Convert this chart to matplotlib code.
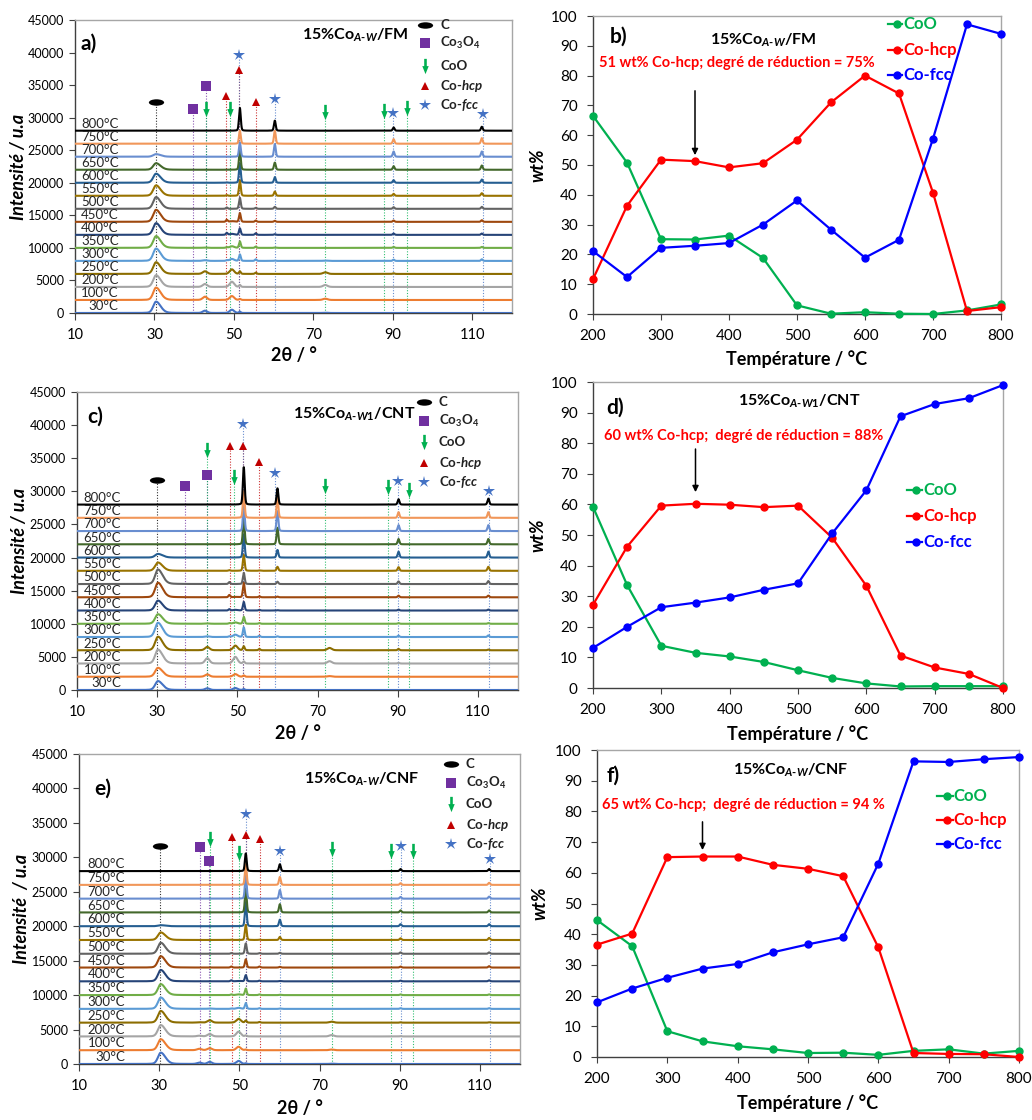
import numpy as np
import matplotlib
matplotlib.use("Agg")
import matplotlib.pyplot as plt
from matplotlib.path import Path
from matplotlib.markers import MarkerStyle

plt.rcParams['font.family'] = ['Lato', 'DejaVu Sans']
plt.rcParams['font.sans-serif'] = ['Lato', 'DejaVu Sans']
plt.rcParams['mathtext.fontset'] = 'custom'
plt.rcParams['mathtext.rm'] = 'Lato:bold'
plt.rcParams['mathtext.it'] = 'Lato:italic:bold'
plt.rcParams['mathtext.bf'] = 'Lato:bold'

# ---------------- DATA ----------------
xrd_temps = ['30°C', '100°C', '200°C', '250°C', '300°C', '350°C', '400°C', '450°C',
             '500°C', '550°C', '600°C', '650°C', '700°C', '750°C', '800°C']
xrd_offsets = [0, 2000, 4000, 6000, 8000, 10000, 12000, 14000, 16000, 18000,
               20000, 22000, 24000, 26000, 28000]

# peak positions (2theta) for each sample
peaks_fm = [30.4, 42.7, 49.5, 48.2, 51.5, 55.5, 60.3, 73.0, 90.2, 112.4]
peaks_cnt = [30.2, 42.5, 49.5, 48.0, 51.6, 55.5, 60.0, 73.0, 90.2, 112.6]
peaks_cnf = [30.4, 40.0, 42.6, 49.8, 48.0, 51.6, 55.0, 60.1, 73.0, 90.2, 112.3]

# peak heights (rows: temperatures, cols: peaks)
heights_fm = [
    [1750, 350, 500, 0, 200, 0, 0, 50, 0, 0],
    [1900, 500, 600, 0, 150, 0, 0, 200, 0, 0],
    [1800, 450, 800, 0, 300, 0, 0, 300, 0, 0],
    [1800, 400, 700, 0, 400, 200, 0, 250, 100, 0],
    [1900, 100, 300, 100, 1000, 250, 50, 50, 200, 250],
    [1800, 50, 250, 100, 1000, 200, 50, 0, 150, 150],
    [1800, 0, 150, 300, 1000, 250, 100, 0, 200, 200],
    [1850, 0, 100, 300, 1350, 200, 150, 0, 200, 250],
    [1800, 0, 0, 200, 1700, 150, 300, 0, 250, 300],
    [1600, 0, 0, 100, 2400, 100, 650, 0, 300, 400],
    [1400, 0, 0, 50, 3000, 50, 870, 0, 400, 500],
    [1000, 0, 0, 0, 3000, 0, 1100, 0, 550, 650],
    [400, 0, 0, 0, 2200, 0, 1950, 0, 800, 800],
    [0, 0, 0, 0, 2000, 0, 2000, 0, 700, 850],
    [0, 0, 0, 0, 3500, 0, 1540, 0, 500, 600],
]
heights_cnt = [
    [1350, 250, 300, 0, 150, 0, 0, 0, 0, 0],
    [1350, 350, 400, 0, 200, 0, 0, 100, 0, 0],
    [2100, 800, 1000, 0, 300, 0, 0, 350, 100, 0],
    [2050, 500, 700, 0, 600, 200, 0, 350, 200, 100],
    [2150, 100, 350, 100, 1450, 200, 100, 0, 200, 250],
    [1450, 50, 200, 100, 1050, 100, 50, 0, 100, 100],
    [1500, 0, 100, 200, 1300, 100, 50, 0, 150, 150],
    [2200, 0, 50, 350, 2200, 150, 100, 0, 250, 250],
    [2200, 0, 0, 300, 1700, 100, 350, 0, 400, 450],
    [1250, 0, 0, 100, 2400, 50, 600, 0, 550, 600],
    [550, 0, 0, 0, 3500, 0, 1150, 0, 900, 900],
    [0, 0, 0, 0, 4000, 0, 2500, 0, 800, 800],
    [0, 0, 0, 0, 4000, 0, 3000, 0, 900, 900],
    [0, 0, 0, 0, 4000, 0, 3000, 0, 850, 850],
    [0, 0, 0, 0, 5650, 0, 2450, 0, 800, 900],
]
heights_cnf = [
    [1650, 200, 300, 450, 0, 100, 0, 0, 50, 0, 0],
    [1600, 200, 300, 500, 0, 100, 0, 0, 100, 0, 0],
    [1650, 100, 350, 700, 0, 150, 0, 0, 200, 50, 0],
    [1700, 50, 350, 550, 0, 300, 100, 0, 150, 50, 50],
    [1650, 0, 50, 150, 50, 850, 100, 50, 0, 100, 100],
    [1600, 0, 0, 100, 100, 950, 100, 50, 0, 100, 100],
    [1650, 0, 0, 50, 150, 900, 100, 50, 0, 100, 150],
    [1650, 0, 0, 0, 150, 1200, 150, 100, 0, 150, 200],
    [1600, 0, 0, 0, 100, 1500, 100, 150, 0, 200, 200],
    [1100, 0, 0, 0, 50, 2200, 50, 450, 0, 250, 300],
    [150, 0, 0, 0, 0, 3500, 0, 950, 0, 300, 300],
    [0, 0, 0, 0, 0, 3500, 0, 1200, 0, 300, 300],
    [0, 0, 0, 0, 0, 3500, 0, 1250, 0, 250, 300],
    [0, 0, 0, 0, 0, 3000, 0, 1150, 0, 250, 300],
    [0, 0, 0, 0, 0, 2560, 0, 1000, 0, 300, 300],
]

# reference phase positions (2theta) marked in each XRD panel
ref_fm = {'C': [30.4], 'Co3O4': [39.7, 42.9], 'CoO': [42.9, 48.9, 72.9, 87.9, 93.6],
          'hcp': [48.1, 51.3, 55.5], 'fcc': [51.4, 60.3, 90.1, 112.6]}
ref_cnt = {'C': [30.0], 'Co3O4': [36.9, 42.5], 'CoO': [42.5, 49.2, 71.75, 87.5, 92.9],
           'hcp': [48.2, 51.3, 55.5], 'fcc': [51.3, 59.5, 90.0, 112.75]}
ref_cnf = {'C': [30.3], 'Co3O4': [40.15, 42.4], 'CoO': [42.6, 50.0, 73.2, 87.9, 93.4],
           'hcp': [48.1, 51.6, 55.1], 'fcc': [51.75, 60.2, 90.3, 112.5]}

# composition (wt%) vs temperature
temp_c = [200, 250, 300, 350, 400, 450, 500, 550, 600, 650, 700, 750, 800]
coo_fm = [66.5, 50.8, 25.1, 25.0, 26.3, 18.8, 2.9, 0.1, 0.6, 0.1, 0.0, 1.2, 3.2]
hcp_fm = [11.7, 36.3, 51.8, 51.3, 49.2, 50.6, 58.5, 71.0, 80.0, 74.0, 40.7, 1.0, 2.3]
fcc_fm = [21.1, 12.4, 22.2, 22.9, 23.8, 30.0, 38.1, 28.3, 18.9, 24.9, 58.8, 97.2, 94.0]
coo_cnt = [59.2, 33.6, 13.8, 11.5, 10.3, 8.5, 5.8, 3.3, 1.5, 0.5, 0.6, 0.6, 0.6]
hcp_cnt = [27.2, 46.2, 59.6, 60.2, 59.9, 59.1, 59.6, 49.1, 33.4, 10.6, 6.7, 4.6, 0.0]
fcc_cnt = [13.1, 20.0, 26.4, 27.9, 29.6, 32.1, 34.2, 50.5, 64.6, 88.8, 92.8, 94.7, 99.0]
coo_cnf = [44.6, 36.1, 8.4, 5.1, 3.5, 2.5, 1.3, 1.4, 0.7, 2.0, 2.5, 1.1, 2.0]
hcp_cnf = [36.6, 40.2, 65.1, 65.3, 65.3, 62.6, 61.3, 58.9, 35.7, 1.3, 1.0, 0.9, 0.0]
fcc_cnf = [17.8, 22.3, 25.8, 28.8, 30.3, 34.1, 36.7, 39.0, 63.0, 96.3, 96.1, 97.0, 97.7]

# ---------------- STYLE ----------------
W, H = 1032, 1120
fig = plt.figure(figsize=(W / 100, H / 100), dpi=100)


def add_ax(l, r, t, b):
    return fig.add_axes([l / W, 1 - b / H, (r - l) / W, (b - t) / H])


line_colors = ['#4472C4', '#ED7D31', '#A5A5A5', '#8C6D00', '#5B9BD5', '#70AD47',
               '#264478', '#9E480E', '#636363', '#997300', '#255E91', '#43682B',
               '#698ED0', '#F1975A', '#000000']
phase_colors = {'C': '#000000', 'Co3O4': '#7030A0', 'CoO': '#00B050',
                'hcp': '#C00000', 'fcc': '#4472C4'}
phase_labels = {'C': 'C', 'Co3O4': r'Co$_3$O$_4$', 'CoO': 'CoO',
                'hcp': r'Co-$\mathit{hcp}$', 'fcc': r'Co-$\mathit{fcc}$'}

ell = Path.unit_circle().transformed(matplotlib.transforms.Affine2D().scale(1.0, 0.42))
arrow_path = Path([(-0.17, 1.0), (0.17, 1.0), (0.17, 0.05), (0.42, 0.05), (0.0, -1.0),
                   (-0.42, 0.05), (-0.17, 0.05), (-0.17, 1.0)], closed=True)
phase_markers = {'C': (ell, 11), 'Co3O4': ('s', 6.5), 'CoO': (arrow_path, 11),
                 'hcp': ('^', 5.5), 'fcc': ('*', 9)}

x2t = np.linspace(10, 120, 4401)


def pattern(pos, hts):
    y = np.zeros_like(x2t)
    for i, (p, h) in enumerate(zip(pos, hts)):
        if h == 0:
            continue
        if i == 0:  # broad, asymmetric carbon peak
            wl, wr = 0.7, 1.15
        elif p in (42.5, 42.6, 42.7, 49.5, 49.8, 73.0, 40.0):
            wl = wr = 0.55
        else:
            wl = wr = 0.22
        w = np.where(x2t < p, wl, wr)
        d = (x2t - p) / w
        y += h * (0.8 * np.exp(-0.5 * d ** 2) + 0.2 / (1 + (d / 1.18) ** 2))
    return y


def style_frame(ax):
    for s in ('left', 'bottom'):
        ax.spines[s].set_color('#404040')
    for s in ('top', 'right'):
        ax.spines[s].set_color('#A6A6A6')
    for s in ax.spines.values():
        s.set_linewidth(1.0)


def xrd_panel(ax, pos, hts, refs, ref_y, leg_x, leg_tx, leg_y, lab, lab_xy,
              title, title_xy, tlabel_x, ylab):
    for i, (h, off) in enumerate(zip(hts, xrd_offsets)):
        ax.plot(x2t, off + pattern(pos, h), color=line_colors[i], lw=1.5, zorder=3 + i * 0.1)
        ax.text(tlabel_x, off + 1000, xrd_temps[i], ha='right', va='center',
                fontsize=9.5, color='#262626', zorder=10)
    for ph, xs in refs.items():
        for x, y in zip(xs, ref_y[ph]):
            ax.vlines(x, 0, y, colors=phase_colors[ph], linestyles=(0, (1, 1.5)),
                      lw=0.8, zorder=2.5, alpha=0.8)
            m, ms = phase_markers[ph]
            ax.plot([x], [y], marker=m, ms=ms, color=phase_colors[ph], ls='none',
                    zorder=12, mew=0)
    for ph, ly in zip(['C', 'Co3O4', 'CoO', 'hcp', 'fcc'], leg_y):
        m, ms = phase_markers[ph]
        ax.plot([leg_x], [ly], marker=m, ms=ms, color=phase_colors[ph], ls='none',
                zorder=12, mew=0)
        ax.text(leg_tx, ly, phase_labels[ph], fontsize=9.5, fontweight='bold',
                va='center', ha='left', color='#222222')
    ax.text(lab_xy[0], lab_xy[1], lab, fontsize=15, fontweight='bold', va='center')
    ax.text(title_xy[0], title_xy[1], title, fontsize=11.5, fontweight='bold',
            va='center', ha='left')
    ax.set_xlim(10, 120)
    ax.set_ylim(0, 45000)
    ax.set_xticks([10, 30, 50, 70, 90, 110])
    ax.set_yticks(range(0, 45001, 5000))
    ax.tick_params(axis='y', labelsize=9, length=4, pad=4, color='#404040')
    ax.tick_params(axis='x', labelsize=10.5, length=5, pad=6, color='#404040')
    style_frame(ax)
    ax.text(-0.13, 0.5, ylab, transform=ax.transAxes, rotation=90, fontsize=13,
            fontweight='bold', fontstyle='italic', ha='center', va='center')
    ax.text(0.5, -0.145, '2θ / °', transform=ax.transAxes, fontsize=13,
            fontweight='bold', ha='center', va='center')


def comp_panel(ax, coo, hcp, fcc, lab, lab_xy, title, title_xy, note, note_xy,
               arr, leg_x0, leg_x1, leg_tx, leg_y):
    for vals, c in ((coo, '#00B050'), (hcp, '#FF0000'), (fcc, '#0000FF')):
        ax.plot(temp_c, vals, color=c, lw=1.6, marker='o', ms=5, zorder=3,
                clip_on=False)
    for (name, c), ly in zip((('CoO', '#00B050'), ('Co-hcp', '#FF0000'),
                              ('Co-fcc', '#0000FF')), leg_y):
        ax.plot([leg_x0, leg_x1], [ly, ly], color=c, lw=1.6)
        ax.plot([(leg_x0 + leg_x1) / 2 + 3], [ly], color=c, marker='o', ms=5)
        ax.text(leg_tx, ly, name, color=c, fontsize=12, fontweight='bold',
                va='center', ha='left')
    ax.text(lab_xy[0], lab_xy[1], lab, fontsize=15, fontweight='bold', va='center')
    ax.text(title_xy[0], title_xy[1], title, fontsize=11.5, fontweight='bold',
            va='center', ha='center')
    ax.text(note_xy[0], note_xy[1], note, fontsize=10.5, fontweight='bold',
            color='#FF0000', va='center', ha='left')
    ax.annotate('', xy=(350, arr[1]), xytext=(350, arr[0]),
                arrowprops=dict(arrowstyle='-|>', color='black', lw=1.1,
                                mutation_scale=9, shrinkA=0, shrinkB=0))
    ax.set_xlim(200, 800)
    ax.set_ylim(0, 100)
    ax.set_xticks(range(200, 801, 100))
    ax.set_yticks(range(0, 101, 10))
    ax.tick_params(labelsize=11, length=4, pad=7, color='#404040')
    style_frame(ax)
    ax.text(-0.135, 0.5, 'wt%', transform=ax.transAxes, rotation=90, fontsize=13,
            fontweight='bold', fontstyle='italic', ha='center', va='center')
    ax.text(0.5, -0.15, 'Température / °C', transform=ax.transAxes, fontsize=13,
            fontweight='bold', ha='center', va='center')


# ---------------- PANELS ----------------
ax_a = add_ax(75, 512, 20, 313)
xrd_panel(ax_a, peaks_fm, heights_fm, ref_fm,
          {'C': [32460], 'Co3O4': [31400, 34870],
           'CoO': [31300, 31300, 30900, 31100, 31450],
           'hcp': [33330, 37300, 32460], 'fcc': [39600, 32800, 30770, 30600]},
          98.2, 102, [44240, 41430, 37990, 34870, 31900],
          'a)', (11.5, 41400), r'15%Co$_{\mathit{A}\text{-}\mathit{W}}$/FM', (67.1, 42700),
          21, 'Intensité / u.a')

ax_c = add_ax(77, 518, 392, 690)
xrd_panel(ax_c, peaks_cnt, heights_cnt, ref_cnt,
          {'C': [31650], 'Co3O4': [30800, 32500],
           'CoO': [36300, 32100, 30850, 30650, 30150],
           'hcp': [36850, 36850, 34400], 'fcc': [40170, 32700, 31600, 30040]},
          96.5, 100.2, [43500, 40680, 37400, 34330, 31450],
          'c)', (12.5, 41330), r'15%Co$_{\mathit{A}\text{-}\mathit{W1}}$/CNT', (64, 41700),
          21, 'Intensité / u.a')

ax_e = add_ax(79, 520, 754, 1064)
xrd_panel(ax_e, peaks_cnf, heights_cnf, ref_cnf,
          {'C': [31600], 'Co3O4': [31500, 29400],
           'CoO': [32700, 30600, 31150, 30950, 30950],
           'hcp': [32950, 33200, 32600], 'fcc': [36350, 30950, 31600, 29750]},
          102.8, 106.5, [43550, 40830, 37690, 34690, 31980],
          'e)', (13.9, 40000), r'15%Co$_{\mathit{A}\text{-}\mathit{W}}$/CNF', (66, 41360),
          21.5, 'Intensité  / u.a')

ax_b = add_ax(593, 1001, 16, 314)
comp_panel(ax_b, coo_fm, hcp_fm, fcc_fm, 'b)', (224, 93),
           r'15%Co$_{\mathit{A}\text{-}\mathit{W}}$/FM', (450, 91.7),
           '51 wt% Co-hcp; degré de réduction = 75%', (209, 84.1), (74.9, 53.3),
           634, 654, 657, [97.3, 88.6, 80.2])

ax_d = add_ax(593, 1003, 382, 688)
comp_panel(ax_d, coo_cnt, hcp_cnt, fcc_cnt, 'd)', (219.5, 91.7),
           r'15%Co$_{\mathit{A}\text{-}\mathit{W1}}$/CNT', (502, 93.7),
           '60 wt% Co-hcp;  degré de réduction = 88%', (215.6, 82.2), (78.1, 64.0),
           659, 681, 683, [64.6, 56.1, 47.7])

ax_f = add_ax(597, 1019, 750, 1057)
comp_panel(ax_f, coo_cnf, hcp_cnf, fcc_cnf, 'f)', (214, 91.5),
           r'15%Co$_{\mathit{A}\text{-}\mathit{W}}$/CNF', (475, 93.3),
           '65 wt% Co-hcp;  degré de réduction = 94 %', (207.6, 82.0), (76.6, 67.4),
           683, 706, 707, [85.1, 77.2, 69.5])

fig.savefig('out.png', dpi=100)
